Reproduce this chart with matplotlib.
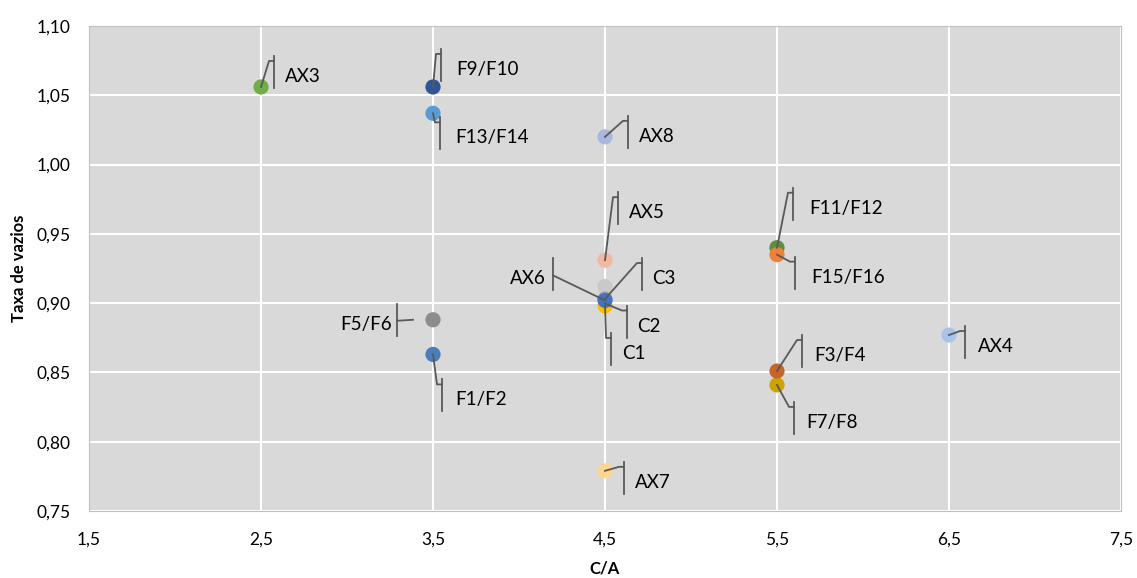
import matplotlib
matplotlib.use('Agg')
import matplotlib.pyplot as plt
from matplotlib.transforms import IdentityTransform
from matplotlib.ticker import FuncFormatter
import numpy as np

plt.rcParams['font.family'] = ['Lato', 'DejaVu Sans']

# series names, C/A and void ratio (drawing order = Excel series order)
labels = ['C1', 'C2', 'C3', 'AX3', 'AX4', 'AX5', 'AX6', 'AX7', 'AX8',
          'F1/F2', 'F5/F6', 'F7/F8', 'F3/F4', 'F9/F10', 'F13/F14', 'F11/F12', 'F15/F16']
ca = [4.5, 4.5, 4.5, 2.5, 6.5, 4.5, 4.5, 4.5, 4.5,
      3.5, 3.5, 5.5, 5.5, 3.5, 3.5, 5.5, 5.5]
vazios = [0.898, 0.912, 0.903, 1.056, 0.877, 0.931, 0.902, 0.779, 1.020,
          0.863, 0.888, 0.841, 0.851, 1.056, 1.037, 0.940, 0.935]
colors = ['#FFC000', '#C9C9C9', '#A5A5A5', '#70AD47', '#A9C4E8', '#F2B8A2', '#4472C4',
          '#FFD68F', '#A9B7E0', '#4A7EBB', '#8C8C8C', '#CFA200', '#C8642A',
          '#2F5597', '#5B9BD5', '#5B8F3A', '#F07F3A']

# label layout in pixels relative to the point (bar dx, bar top dy, text dx, leader start dx, dy)
lay = {
    'C1': (6, 27, 17, 0, 0), 'C2': (22, 19, 32, 0, 17), 'C3': (37, -41, 47, 0, 0),
    'AX3': (13, -31, 24, 0, 0), 'AX4': (16, -9, 29, 0, 0), 'AX5': (13, -68, 24, 0, 0),
    'AX6': (-52, -42, -59, 0, 0), 'AX7': (19, -9, 30, 0, 0), 'AX8': (23, -21, 34, 0, 0),
    'F1/F2': (9, 25, 22, 0, 0), 'F5/F6': (-36, -16, -41, -20, 0), 'F7/F8': (17, 17, 29, 0, 0),
    'F3/F4': (25, -36, 37, 0, 0), 'F9/F10': (8, -38, 23, 0, 0), 'F13/F14': (7, 4, 22, 0, 0),
    'F11/F12': (16, -60, 32, 0, 0), 'F15/F16': (18, 2, 34, 0, 0),
}

W, H = 1137, 578
fig = plt.figure(figsize=(W / 100, H / 100), dpi=100)
ax = fig.add_axes([89 / W, (H - 511) / H, (1121 - 89) / W, (511 - 26) / H])
ax.set_facecolor('#D9D9D9')

ax.set_xlim(1.5, 7.5)
ax.set_ylim(0.75, 1.10)
ax.set_xticks(np.arange(1.5, 7.6, 1.0))
ax.set_yticks(np.arange(0.75, 1.101, 0.05))
ax.xaxis.set_major_formatter(FuncFormatter(lambda v, p: ('%.1f' % v).replace('.', ',')))
ax.yaxis.set_major_formatter(FuncFormatter(lambda v, p: ('%.2f' % v).replace('.', ',')))
ax.grid(True, color='white', lw=1.5)
ax.set_axisbelow(True)
ax.tick_params(length=0, labelsize=12.5, colors='#000000')
ax.tick_params(axis='y', pad=13)
ax.tick_params(axis='x', pad=15)
for s in ax.spines.values():
    s.set_color('#BFBFBF')
    s.set_linewidth(0.8)

for x, y, c in zip(ca, vazios, colors):
    ax.scatter(x, y, s=120, color=c, edgecolors='none', zorder=3, clip_on=False)

ax.set_xlabel('C/A', fontsize=12, fontweight='bold', labelpad=9)
ax.set_ylabel('Taxa de vazios', fontsize=12, fontweight='bold', labelpad=7)

# data labels with Excel-like leader lines, drawn in pixel space
idt = IdentityTransform()
lc = '#595959'
for lab, x, y in zip(labels, ca, vazios):
    px, py = ax.transData.transform((x, y))
    bdx, btop, tdx, sdx, sdy = lay[lab]
    bx = px + bdx
    top = py - btop
    bot = top - 32
    sx, sy = px + sdx, py - sdy
    ax.plot([bx, bx], [top, bot], color=lc, lw=1.3, transform=idt, clip_on=False, zorder=4)
    if tdx > 0:
        cy = top - 5
        ax.plot([sx, bx - 5, bx], [sy, cy, cy], color=lc, lw=1.3, transform=idt,
                clip_on=False, zorder=4)
        ax.text(px + tdx, top - 26, lab, fontsize=13.5, ha='left', va='baseline',
                transform=idt, zorder=5)
    else:
        cy = top - 17
        ax.plot([sx, bx], [sy, cy], color=lc, lw=1.3, transform=idt, clip_on=False, zorder=4)
        ax.text(px + tdx, top - 26, lab, fontsize=13.5, ha='right', va='baseline',
                transform=idt, zorder=5)

plt.savefig('out.png', dpi=100)
